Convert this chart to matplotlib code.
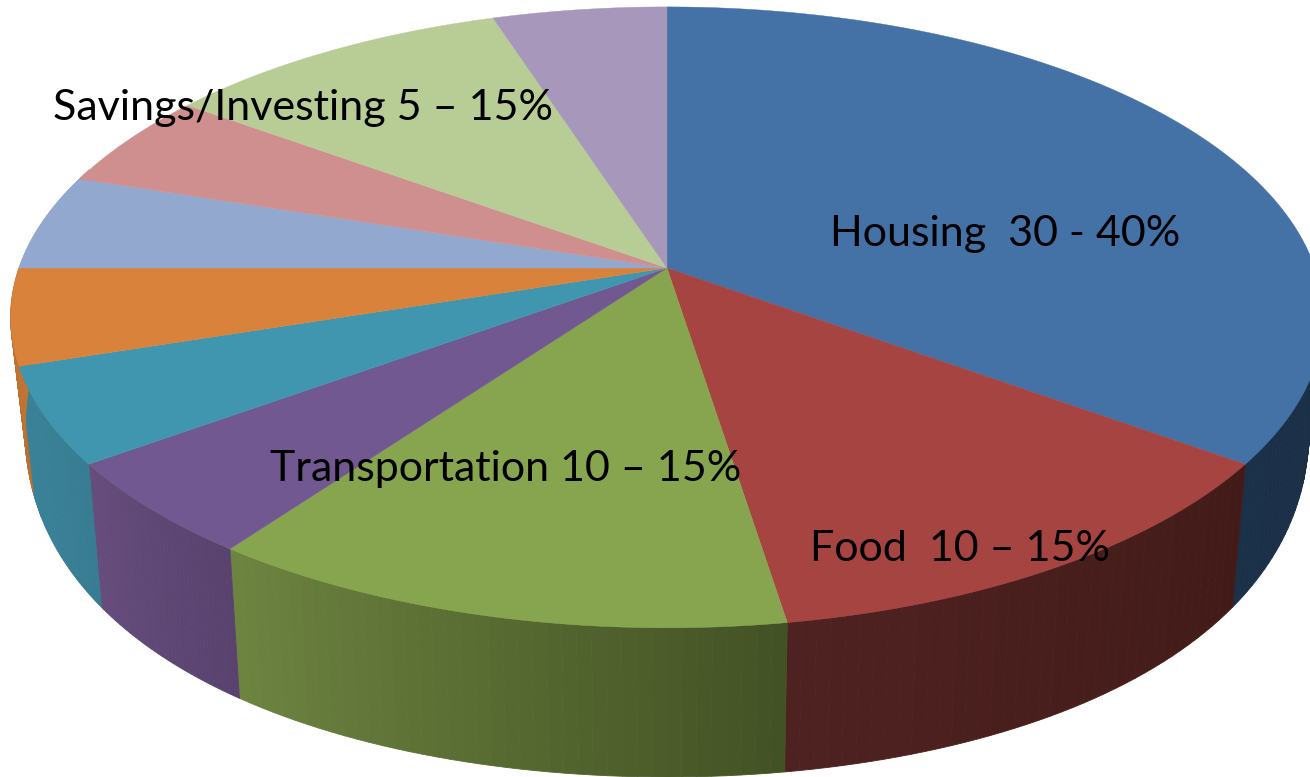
import numpy as np
import matplotlib
matplotlib.use('Agg')
import matplotlib.pyplot as plt
from matplotlib.colors import to_rgb

# clockwise from the top of the pie
slices = ['Housing', 'Food', 'Transportation', 'Purple', 'Teal', 'Orange',
          'Light blue', 'Pink', 'Savings/Investing', 'Lavender']
shares = [35, 12.5, 12.5, 5, 5, 5, 5, 5, 10, 5]
top_colors = ['#4471A6', '#A64442', '#87A44E', '#715890', '#4096AE', '#D9823C',
              '#93A8CE', '#CF8F8E', '#B8CD96', '#A797BA']
side_left = ['#1B3049', '#4E2220', '#6D8440', '#654C7C', '#3A8299', '#C27635',
             '#93A8CE', '#CF8F8E', '#B8CD96', '#A797BA']
side_right = ['#1B2E45', '#421B19', '#435224', '#59426E', '#377C92', '#B8702F',
              '#93A8CE', '#CF8F8E', '#B8CD96', '#A797BA']

label_texts = ['Housing  30 - 40%', 'Food  10 – 15%', 'Transportation 10 – 15%',
               'Savings/Investing 5 – 15%']
label_x = [830, 810, 270, 53]
label_y = [246, 561, 481, 120]

# the picture is a perspective view, these were fitted to the rim by hand
CX, CY = 667, 268
RX, RY = 648, 302.6
K = 0.159
BOTTOM_Y0, BOTTOM_RY = 365, 412
BOTTOM_SHRINK = 0.978


def rim_top(theta):
    d = 1 + K * np.sin(theta)
    return CX + RX * np.cos(theta) / d, CY - RY * np.sin(theta) / d


def rim_bottom(theta):
    x, _ = rim_top(theta)
    return CX + BOTTOM_SHRINK * (x - CX), BOTTOM_Y0 - BOTTOM_RY * np.sin(theta)


def main():
    fig = plt.figure(figsize=(13.10, 7.77), dpi=100)
    ax = fig.add_axes([0, 0, 1, 1])
    ax.set_xlim(0, 1310)
    ax.set_ylim(777, 0)
    ax.axis('off')

    edges = 90 - np.cumsum([0] + shares) * 3.6

    # sides first, the top face goes over them
    for i in range(len(shares)):
        a1, a2 = edges[i], edges[i + 1]
        # only the front half of the rim can be seen
        a1 = min(a1, -0.0) if a2 < 0 else a1
        if a2 >= 0 or a1 <= -200:
            continue
        a2 = max(a2, -200)
        steps = np.radians(np.linspace(a1, a2, 41))
        c_l, c_r = np.array(to_rgb(side_right[i])), np.array(to_rgb(side_left[i]))
        for j in range(40):
            th = steps[j:j + 2]
            xt, yt = rim_top(th)
            xb, yb = rim_bottom(th)
            c = c_l + (c_r - c_l) * j / 39
            ax.fill([xt[0], xt[1], xb[1], xb[0]], [yt[0], yt[1], yb[1], yb[0]],
                    color=c, lw=0.6, zorder=1 + i / 100)

    for i in range(len(shares)):
        th = np.radians(np.linspace(edges[i], edges[i + 1], 120))
        x, y = rim_top(th)
        ax.fill(np.r_[CX, x], np.r_[CY, y], color=top_colors[i], lw=0.3, zorder=3)

    for t, x, y in zip(label_texts, label_x, label_y):
        ax.text(x, y, t, fontsize=31, family='Lato', color='black',
                ha='left', va='baseline', zorder=5)

    fig.savefig('out.png', dpi=100)


if __name__ == "__main__":
    main()
